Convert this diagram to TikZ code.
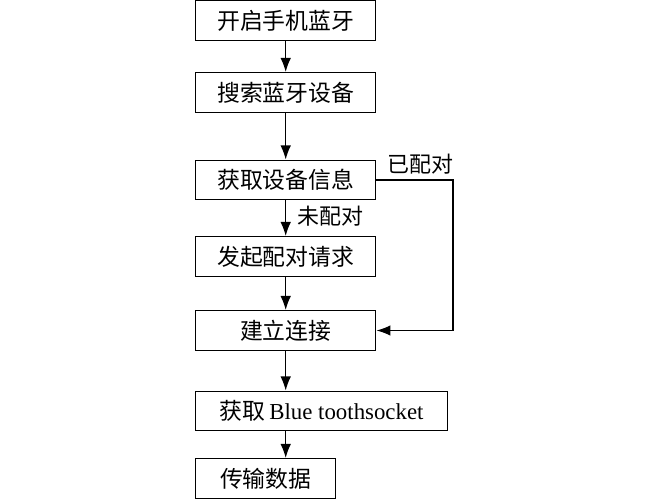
\documentclass[tikz,border=0pt]{standalone}
\usepackage{fontspec}
\setmainfont{Liberation Serif}
\newfontfamily\cjk{Noto Sans CJK SC}
\usetikzlibrary{arrows.meta}
\tikzset{
  proc/.style={draw,thick,anchor=west,minimum height=0.79cm,inner sep=0pt,
    font=\fontsize{13pt}{15pt}\selectfont\cjk},
  lbl/.style={font=\fontsize{12.5pt}{15pt}\selectfont\cjk}
}

\begin{document}
\begin{tikzpicture}[>={Latex[length=8pt,width=6pt]},thick]
\useasboundingbox (0,0) rectangle (12.96,-10);
\node[proc,minimum width=3.6cm] (open) at (3.9,-0.41) {开启手机蓝牙};
\node[proc,minimum width=3.6cm] (scan) at (3.9,-1.85) {搜索蓝牙设备};
\node[proc,minimum width=3.6cm] (info) at (3.9,-3.6) {获取设备信息};
\node[proc,minimum width=3.6cm] (pair) at (3.9,-5.13) {发起配对请求};
\node[proc,minimum width=3.6cm] (conn) at (3.9,-6.61) {建立连接};
\node[proc,minimum width=5.04cm] (sock) at (3.9,-8.22) {获取\,{\rmfamily Blue toothsocket}};
\node[proc,minimum width=2.8cm] (send) at (3.9,-9.57) {传输数据};
\coordinate (turn) at (9.06,-3.6);
\draw[->] (open) -- (scan);
\draw[->] (scan) -- (info);
\draw[->] (info) -- (pair) node[lbl,pos=0.45,right=3pt] (unpaired) {未配对};
\draw[->] (pair) -- (conn);
\draw[->] (conn.south) -- (conn.south |- sock.north);
\draw[->] (conn.south |- sock.south) -- (conn.south |- send.north);
\draw[->] (info.east) -- (turn) |- (conn.east);
\node[lbl,anchor=south west] (paired) at (7.62,-3.62) {已配对};
\end{tikzpicture}
\end{document}
